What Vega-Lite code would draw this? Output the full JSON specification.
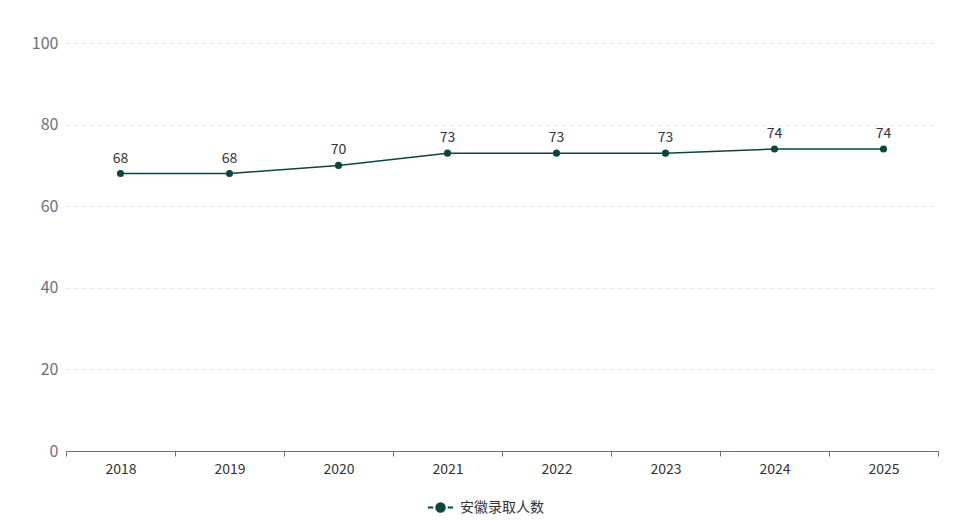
{
  "$schema": "https://vega.github.io/schema/vega-lite/v6.json",
  "width": 872,
  "height": 408,
  "autosize": {"type": "none"},
  "padding": {"left": 66, "top": 43, "right": 25, "bottom": 77},
  "config": {
    "font": "Noto Sans CJK SC",
    "view": {"stroke": null}
  },
  "data": {
    "values": [
      {"year": "2018", "value": 68, "series": "安徽录取人数"},
      {"year": "2019", "value": 68, "series": "安徽录取人数"},
      {"year": "2020", "value": 70, "series": "安徽录取人数"},
      {"year": "2021", "value": 73, "series": "安徽录取人数"},
      {"year": "2022", "value": 73, "series": "安徽录取人数"},
      {"year": "2023", "value": 73, "series": "安徽录取人数"},
      {"year": "2024", "value": 74, "series": "安徽录取人数"},
      {"year": "2025", "value": 74, "series": "安徽录取人数"}
    ]
  },
  "encoding": {
    "x": {
      "field": "year", "type": "ordinal", "sort": null,
      "scale": {"paddingInner": 0, "paddingOuter": 0},
      "axis": {
        "title": null, "labelAngle": 0, "tickBand": "extent",
        "domainColor": "#6e7079", "tickColor": "#6e7079", "tickSize": 5,
        "labelColor": "#333333", "labelFontSize": 14, "labelPadding": 6,
        "grid": false
      }
    },
    "y": {
      "field": "value", "type": "quantitative",
      "scale": {"domain": [0, 100], "nice": false},
      "axis": {
        "title": null, "values": [0, 20, 40, 60, 80, 100],
        "domain": false, "ticks": false,
        "labelColor": "#6e7079", "labelFontSize": 16, "labelPadding": 8,
        "gridColor": "#dfe4f0", "gridDash": [4, 4], "gridWidth": 1
      }
    }
  },
  "layer": [
    {
      "mark": {"type": "line", "strokeWidth": 1.5, "point": {"filled": true, "size": 50, "opacity": 1}},
      "encoding": {
        "color": {
          "field": "series", "type": "nominal",
          "scale": {"range": ["#0a4540"]},
          "legend": {
            "title": null, "orient": "none", "legendX": 361, "legendY": 451,
            "direction": "horizontal",
            "symbolType": "M-1,0L-0.58,0M0.58,0L1,0M-0.34,0A0.34,0.34 0 1,0 0.34,0A0.34,0.34 0 1,0 -0.34,0",
            "symbolSize": 625, "symbolStrokeWidth": 2,
            "symbolFillColor": "#0a4540", "symbolStrokeColor": "#0a4540",
            "labelFontSize": 14, "labelColor": "#333333", "labelOffset": 6
          }
        }
      }
    },
    {
      "mark": {"type": "text", "dy": -15, "fontSize": 14, "color": "#333333"},
      "encoding": {"text": {"field": "value", "type": "quantitative"}}
    }
  ]
}
